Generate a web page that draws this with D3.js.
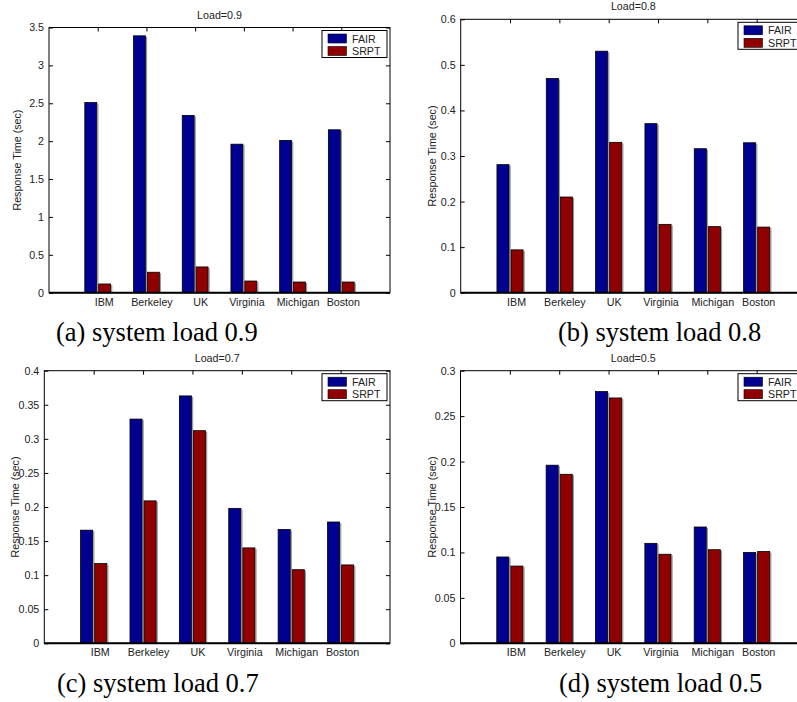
<!DOCTYPE html>
<html>
<head>
<meta charset="utf-8">
<script src="https://d3js.org/d3.v7.min.js"></script>
<style>
  body { margin: 0; background: #fff; }
  text { font-family: "Liberation Sans", Arial, sans-serif; }
</style>
</head>
<body>
<svg id="chart" width="797" height="702"></svg>
<script>
// sites and series
const sites = ["IBM", "Berkeley", "UK", "Virginia", "Michigan", "Boston"];
const series = ["FAIR", "SRPT"];

// response times (sec)
const fair09 = [2.51, 3.39, 2.34, 1.96, 2.01, 2.15];
const srpt09 = [0.115, 0.27, 0.34, 0.154, 0.141, 0.141];
const fair08 = [0.281, 0.47, 0.53, 0.371, 0.316, 0.329];
const srpt08 = [0.094, 0.21, 0.33, 0.15, 0.145, 0.144];
const fair07 = [0.166, 0.329, 0.363, 0.198, 0.167, 0.178];
const srpt07 = [0.117, 0.209, 0.312, 0.14, 0.108, 0.115];
const fair05 = [0.095, 0.196, 0.277, 0.11, 0.128, 0.1];
const srpt05 = [0.085, 0.186, 0.27, 0.098, 0.103, 0.101];

const loads = ["0.9", "0.8", "0.7", "0.5"];
const captions = ["(a) system load 0.9", "(b) system load 0.8", "(c) system load 0.7", "(d) system load 0.5"];
const yTicks09 = [0, 0.5, 1, 1.5, 2, 2.5, 3, 3.5];
const yTicks08 = [0, 0.1, 0.2, 0.3, 0.4, 0.5, 0.6];
const yTicks07 = [0, 0.05, 0.1, 0.15, 0.2, 0.25, 0.3, 0.35, 0.4];
const yTicks05 = [0, 0.05, 0.1, 0.15, 0.2, 0.25, 0.3];

const panels = [
  { load: loads[0], caption: captions[0], values: [fair09, srpt09], ticks: yTicks09 },
  { load: loads[1], caption: captions[1], values: [fair08, srpt08], ticks: yTicks08 },
  { load: loads[2], caption: captions[2], values: [fair07, srpt07], ticks: yTicks07 },
  { load: loads[3], caption: captions[3], values: [fair05, srpt05], ticks: yTicks05 }
];

// layout of each panel in the page
const layout = [
  { left: 49,    right: 390, top: 27.5, bottom: 292.7, ylabX: 17,  capX: 56,  capY: 341 },
  { left: 460.7, right: 806, top: 19.3, bottom: 292.7, ylabX: 432, capX: 558, capY: 341 },
  { left: 44.3,  right: 390, top: 370.7, bottom: 643.3, ylabX: 15, capX: 57,  capY: 691.5 },
  { left: 460.5, right: 806, top: 370.7, bottom: 643.3, ylabX: 432, capX: 559, capY: 691.5 }
];
const colors = ["#000090", "#900000"];
const barSpan = [[-0.265, -0.02], [0.02, 0.265]];
const labelNudge = [6, 5, 5, 2.5, 5, 1.5];
const fs = 10.7;

const svg = d3.select("#chart");

panels.forEach(function(p, k) {
  const L = layout[k];
  const g = svg.append("g");

  const x = d3.scaleLinear().domain([0, 7]).range([L.left, L.right]);
  const y = d3.scaleLinear().domain([0, d3.max(p.ticks)]).range([L.bottom, L.top]);
  const pos = sites.map((s, i) => i + 1);

  // white plot area
  g.append("rect")
    .attr("x", L.left).attr("y", L.top)
    .attr("width", L.right - L.left).attr("height", L.bottom - L.top)
    .attr("fill", "#fff");

  // y axis with labels, inward ticks
  const ya = g.append("g")
    .attr("transform", `translate(${L.left},0)`)
    .call(d3.axisLeft(y).tickValues(p.ticks).tickSize(-4).tickPadding(5)
      .tickFormat(d => String(+d.toFixed(2))));
  ya.select(".domain").remove();
  ya.selectAll("line").attr("stroke", "#000");
  ya.selectAll("text").attr("font-size", fs).attr("fill", "#222")
    .attr("font-family", "Liberation Sans, Arial, sans-serif");

  // right ticks
  const yr = g.append("g")
    .attr("transform", `translate(${L.right},0)`)
    .call(d3.axisRight(y).tickValues(p.ticks).tickSize(-4).tickFormat(""));
  yr.select(".domain").remove();

  // top ticks
  const xt = g.append("g")
    .attr("transform", `translate(0,${L.top})`)
    .call(d3.axisTop(x).tickValues(pos).tickSize(-4).tickFormat(""));
  xt.select(".domain").remove();

  // bottom labels
  const xb = g.append("g")
    .attr("transform", `translate(0,${L.bottom})`)
    .call(d3.axisBottom(x).tickValues(pos).tickSize(0).tickPadding(5.5)
      .tickFormat((d, i) => sites[i]));
  xb.select(".domain").remove();
  xb.selectAll("text").attr("font-size", fs).attr("fill", "#222")
    .attr("font-family", "Liberation Sans, Arial, sans-serif")
    .attr("dx", (d, i) => labelNudge[i]);

  // bars
  series.forEach(function(s, j) {
    const vals = p.values[j];
    g.append("g").selectAll("rect.shadow")
      .data(vals)
      .join("rect")
        .attr("x", (d, i) => x(pos[i] + barSpan[j][1]) + 0.5)
        .attr("y", d => y(d) + 1)
        .attr("width", 1.2)
        .attr("height", d => y(0) - y(d) - 1)
        .attr("fill", "#9a9a9a");
    g.append("g").selectAll("rect.bar")
      .data(vals)
      .join("rect")
        .attr("x", (d, i) => x(pos[i] + barSpan[j][0]))
        .attr("y", d => y(d))
        .attr("width", (d, i) => x(pos[i] + barSpan[j][1]) - x(pos[i] + barSpan[j][0]))
        .attr("height", d => y(0) - y(d))
        .attr("fill", colors[j])
        .attr("stroke", "#000")
        .attr("stroke-width", 0.8);
  });

  // frame
  g.append("rect")
    .attr("x", L.left).attr("y", L.top)
    .attr("width", L.right - L.left).attr("height", L.bottom - L.top)
    .attr("fill", "none").attr("stroke", "#000").attr("stroke-width", 1);
  g.append("line")
    .attr("x1", L.left).attr("x2", L.right)
    .attr("y1", L.bottom).attr("y2", L.bottom)
    .attr("stroke", "#000").attr("stroke-width", 2);

  // title
  g.append("text")
    .attr("x", (L.left + L.right) / 2).attr("y", L.top - 9)
    .attr("text-anchor", "middle")
    .attr("font-size", fs).attr("fill", "#222")
    .text("Load=" + p.load);

  // y label
  g.append("text")
    .attr("transform", `translate(${L.ylabX},${(L.top + L.bottom) / 2}) rotate(-90)`)
    .attr("text-anchor", "middle")
    .attr("dominant-baseline", "central")
    .attr("font-size", fs).attr("fill", "#222")
    .text("Response Time (sec)");

  // legend
  const lx = L.right - 68, ly = L.top + 3;
  const lg = g.append("g");
  lg.append("rect")
    .attr("x", lx).attr("y", ly).attr("width", 65).attr("height", 27)
    .attr("fill", "#fff").attr("stroke", "#000").attr("stroke-width", 1);
  series.forEach(function(s, j) {
    lg.append("rect")
      .attr("x", lx + 6).attr("y", ly + 3.5 + j * 12.5)
      .attr("width", 18.5).attr("height", 9)
      .attr("fill", colors[j]).attr("stroke", "#000").attr("stroke-width", 0.6);
    lg.append("text")
      .attr("x", lx + 30).attr("y", ly + 8 + j * 12.5)
      .attr("dominant-baseline", "central")
      .attr("font-size", fs).attr("fill", "#222")
      .text(s);
  });

  // caption
  svg.append("text")
    .attr("x", L.capX).attr("y", L.capY)
    .style("font-family", "'Liberation Serif', 'Times New Roman', serif")
    .attr("font-size", 26.5).attr("fill", "#000")
    .text(p.caption);
});
</script>
</body>
</html>
